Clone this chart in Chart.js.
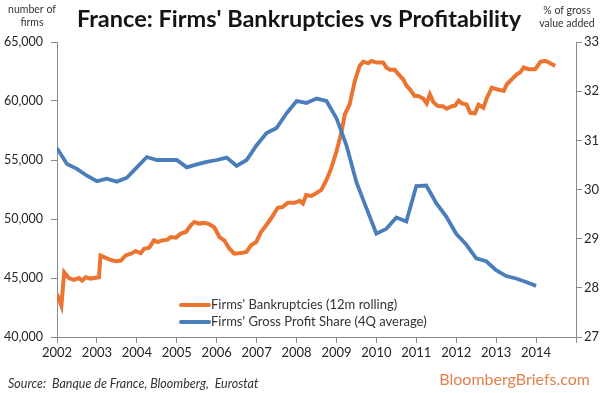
<!DOCTYPE html>
<html><head><meta charset="utf-8">
<script src="https://cdn.jsdelivr.net/npm/chart.js@4"></script>
<style>html,body{margin:0;padding:0;background:#fff}#wrap{width:604px;height:393px;position:relative}</style>
</head><body><div id="wrap"><canvas id="c" width="604" height="393"></canvas></div>
<script>
const chartTitle = "France: Firms' Bankruptcies vs Profitability";
const leftAxisTitle = ["number of", "firms"];
const rightAxisTitle = ["% of gross", "value added"];
const sourceText = "Source:  Banque de France, Bloomberg,  Eurostat";
const brandText = "BloombergBriefs.com";
const seriesNames = ["Firms' Bankruptcies (12m rolling)", "Firms' Gross Profit Share (4Q average)"];

const xTickYears = [2002, 2003, 2004, 2005, 2006, 2007, 2008, 2009, 2010, 2011, 2012, 2013, 2014];
const leftTicks = [40000, 45000, 50000, 55000, 60000, 65000];
const rightTicks = [27, 28, 29, 30, 31, 32, 33];

const bankruptcyYears = [2002.00, 2002.11, 2002.18, 2002.30, 2002.42, 2002.55, 2002.63, 2002.72, 2002.84, 2003.05,
  2003.09, 2003.22, 2003.34, 2003.47, 2003.60, 2003.72, 2003.85, 2003.97, 2004.10, 2004.18,
  2004.31, 2004.43, 2004.52, 2004.64, 2004.77, 2004.85, 2004.98, 2005.10, 2005.23, 2005.35,
  2005.44, 2005.56, 2005.69, 2005.81, 2005.94, 2006.07, 2006.19, 2006.32, 2006.44, 2006.61,
  2006.74, 2006.86, 2006.99, 2007.11, 2007.24, 2007.36, 2007.53, 2007.66, 2007.78, 2007.95,
  2008.08, 2008.16, 2008.24, 2008.37, 2008.49, 2008.62, 2008.75, 2008.87, 2009.00, 2009.12,
  2009.21, 2009.33, 2009.46, 2009.58, 2009.67, 2009.80, 2009.88, 2010.00, 2010.17, 2010.25,
  2010.34, 2010.46, 2010.55, 2010.67, 2010.76, 2010.84, 2010.96, 2011.05, 2011.18, 2011.26,
  2011.34, 2011.43, 2011.54, 2011.66, 2011.76, 2011.89, 2011.97, 2012.06, 2012.14, 2012.26,
  2012.35, 2012.47, 2012.56, 2012.68, 2012.77, 2012.89, 2013.02, 2013.19, 2013.27, 2013.39,
  2013.52, 2013.60, 2013.69, 2013.81, 2013.98, 2014.11, 2014.23, 2014.32, 2014.40, 2014.48];
const bankruptcyValues = [43640, 42650, 45480, 45000, 44840, 45000, 44780, 45060, 44950, 45060,
  46910, 46710, 46540, 46430, 46480, 46910, 47060, 47280, 47110, 47480,
  47570, 48190, 48050, 48190, 48250, 48470, 48420, 48760, 48900, 49470,
  49750, 49610, 49670, 49560, 49300, 48470, 48190, 47480, 47060, 47110,
  47200, 47770, 48050, 48900, 49470, 50040, 50950, 51030, 51370, 51370,
  51540, 51320, 52030, 51950, 52180, 52460, 53310, 54310, 55720, 57290,
  58860, 59710, 61700, 62980, 63320, 63210, 63400, 63260, 63260, 62840,
  62640, 62640, 62270, 61840, 61270, 60990, 60420, 60420, 60190, 59800,
  60560, 59900, 59580, 59560, 59340, 59560, 59600, 60030, 59800, 59700,
  59000, 58960, 59680, 59430, 60280, 61130, 60990, 60850, 61420, 61840,
  62270, 62410, 62840, 62700, 62700, 63320, 63400, 63260, 63110, 62980];

const profitYears = [2002.00, 2002.25, 2002.50, 2002.75, 2003.00, 2003.25, 2003.50, 2003.75,
  2004.00, 2004.25, 2004.50, 2004.75, 2005.00, 2005.25, 2005.50, 2005.75,
  2006.00, 2006.25, 2006.50, 2006.75, 2007.00, 2007.25, 2007.50, 2007.75,
  2008.00, 2008.25, 2008.50, 2008.75, 2009.00, 2009.25, 2009.50, 2009.75,
  2010.00, 2010.25, 2010.50, 2010.75, 2011.00, 2011.25, 2011.50, 2011.75,
  2012.00, 2012.25, 2012.50, 2012.75, 2013.00, 2013.25, 2013.50, 2013.75, 2014.00];
const profitValues = [30.84, 30.52, 30.42, 30.28, 30.17, 30.22, 30.16, 30.24,
  30.45, 30.66, 30.60, 30.60, 30.60, 30.45, 30.51, 30.56,
  30.60, 30.65, 30.48, 30.60, 30.90, 31.15, 31.25, 31.55,
  31.80, 31.76, 31.85, 31.80, 31.45, 30.90, 30.15, 29.62,
  29.10, 29.20, 29.43, 29.35, 30.07, 30.08, 29.72, 29.45,
  29.10, 28.88, 28.60, 28.54, 28.36, 28.24, 28.19, 28.12, 28.04];

const ORANGE = '#ec7431';
const BLUE = '#4a7ebb';
const AXIS = '#8a8a8a';
const FONT = 'Lato';

const toPoints = (xs, ys) => xs.map((x, i) => ({x: x, y: ys[i]}));

const overlay = {
  id: 'overlay',
  afterDraw(chart) {
    const ctx = chart.ctx;
    ctx.save();
    ctx.textBaseline = 'middle';
    // title
    ctx.fillStyle = '#141414';
    ctx.font = `bold 23.5px ${FONT}`;
    ctx.textAlign = 'center';
    ctx.fillText(chartTitle, 299, 19);
    // axis titles
    ctx.fillStyle = '#333';
    ctx.font = `10.5px ${FONT}`;
    ctx.fillText(leftAxisTitle[0], 32, 10);
    ctx.fillText(leftAxisTitle[1], 32, 23);
    ctx.fillText(rightAxisTitle[0], 567, 11);
    ctx.fillText(rightAxisTitle[1], 567, 24);
    // legend
    const colors = [ORANGE, BLUE];
    const ly = [305, 322];
    ctx.textAlign = 'left';
    ctx.font = `13px ${FONT}`;
    for (let i = 0; i < 2; i++) {
      ctx.strokeStyle = colors[i];
      ctx.lineWidth = 4;
      ctx.lineCap = 'round';
      ctx.beginPath();
      ctx.moveTo(181, ly[i]);
      ctx.lineTo(209, ly[i]);
      ctx.stroke();
      ctx.fillStyle = '#333';
      ctx.fillText(chart.data.datasets[i].label, 211, ly[i]);
    }
    // source
    ctx.font = `italic 12.5px ${FONT}`;
    ctx.fillStyle = '#333';
    ctx.fillText(sourceText, 8, 384);
    // brand
    ctx.font = `16px ${FONT}`;
    ctx.fillStyle = '#e2804e';
    ctx.textAlign = 'right';
    ctx.fillText(brandText, 590, 380);
    ctx.restore();
  }
};

new Chart(document.getElementById('c'), {
  type: 'line',
  data: {
    datasets: [
      {label: seriesNames[0], data: toPoints(bankruptcyYears, bankruptcyValues), yAxisID: 'yL',
       borderColor: ORANGE, borderWidth: 4, pointRadius: 0, tension: 0, order: 1},
      {label: seriesNames[1], data: toPoints(profitYears, profitValues), yAxisID: 'yR',
       borderColor: BLUE, borderWidth: 3.8, pointRadius: 0, tension: 0, order: 0}
    ]
  },
  options: {
    responsive: false,
    animation: false,
    devicePixelRatio: 1,
    layout: {padding: {top: 42, left: 0, right: 0, bottom: 0}},
    plugins: {legend: {display: false}, tooltip: {enabled: false}, title: {display: false}},
    scales: {
      x: {
        type: 'linear', min: xTickYears[0], max: xTickYears[xTickYears.length - 1] + 1,
        afterBuildTicks: (s) => { s.ticks = xTickYears.concat([xTickYears[xTickYears.length - 1] + 1]).map(v => ({value: v})); },
        afterFit: (s) => { s.height = 56; },
        ticks: {color: '#262626', font: {family: FONT, size: 13}, padding: 2, maxRotation: 0, autoSkip: false,
          callback: (v) => xTickYears.includes(v) ? String(v) : ''},
        grid: {drawOnChartArea: false, drawTicks: true, tickLength: 6, color: AXIS},
        border: {color: AXIS, width: 1}
      },
      yL: {
        position: 'left', min: leftTicks[0], max: leftTicks[leftTicks.length - 1],
        afterBuildTicks: (s) => { s.ticks = leftTicks.map(v => ({value: v})); },
        afterFit: (s) => { s.width = 57; },
        ticks: {color: '#262626', font: {family: FONT, size: 12.5}, padding: 8,
          callback: (v) => v.toLocaleString('en-US')},
        grid: {drawOnChartArea: false, drawTicks: true, tickLength: 6, color: AXIS},
        border: {color: AXIS, width: 1}
      },
      yR: {
        position: 'right', min: rightTicks[0], max: rightTicks[rightTicks.length - 1],
        afterBuildTicks: (s) => { s.ticks = rightTicks.map(v => ({value: v})); },
        afterFit: (s) => { s.width = 28; },
        ticks: {color: '#262626', font: {family: FONT, size: 13}, padding: 2},
        grid: {drawOnChartArea: false, drawTicks: true, tickLength: 6, color: AXIS},
        border: {color: AXIS, width: 1}
      }
    }
  },
  plugins: [overlay]
});
</script></body></html>
